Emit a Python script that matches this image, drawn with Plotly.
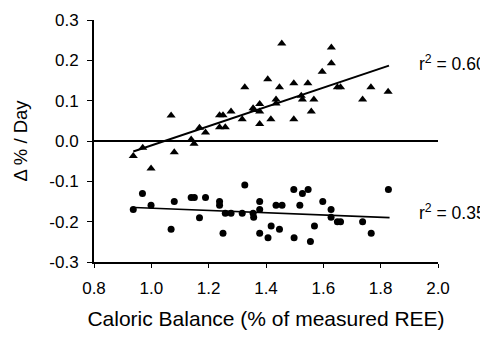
import plotly.graph_objects as go

tri_x = [0.937, 0.970, 0.999, 1.069, 1.080, 1.139, 1.149, 1.168, 1.189, 1.238,
         1.250, 1.238, 1.258, 1.278, 1.317, 1.326, 1.355, 1.358, 1.378, 1.378,
         1.378, 1.406, 1.417, 1.435, 1.435, 1.447, 1.455, 1.497, 1.497, 1.523,
         1.527, 1.546, 1.558, 1.567, 1.596, 1.628, 1.628, 1.649, 1.660, 1.737,
         1.766, 1.826]
tri_y = [-0.037, -0.017, -0.068, 0.063, -0.028, 0.004, -0.007, 0.033, 0.021, 0.064,
         0.064, 0.034, 0.034, 0.073, 0.054, 0.133, 0.081, 0.077, 0.092, 0.073,
         0.042, 0.153, 0.054, 0.103, 0.093, 0.133, 0.242, 0.143, 0.054, 0.112,
         0.103, 0.143, 0.073, 0.103, 0.172, 0.193, 0.232, 0.133, 0.133, 0.103,
         0.133, 0.122]

circ_x = [0.937, 0.969, 0.999, 1.069, 1.080, 1.139, 1.150, 1.168, 1.189, 1.238,
          1.238, 1.250, 1.258, 1.278, 1.317, 1.326, 1.355, 1.357, 1.378, 1.378,
          1.378, 1.407, 1.418, 1.435, 1.456, 1.447, 1.497, 1.498, 1.518, 1.527,
          1.547, 1.555, 1.569, 1.598, 1.627, 1.627, 1.649, 1.660, 1.737, 1.767,
          1.827]
circ_y = [-0.170, -0.130, -0.159, -0.219, -0.150, -0.140, -0.140, -0.190, -0.140, -0.150,
          -0.159, -0.229, -0.179, -0.179, -0.179, -0.109, -0.179, -0.189, -0.150, -0.170,
          -0.229, -0.240, -0.211, -0.159, -0.159, -0.219, -0.120, -0.240, -0.159, -0.130,
          -0.120, -0.249, -0.211, -0.150, -0.170, -0.189, -0.200, -0.200, -0.200, -0.229,
          -0.120]

tri_fit_x = [0.937, 1.829]
tri_fit_y = [-0.026, 0.187]
circ_fit_x = [0.941, 1.831]
circ_fit_y = [-0.165, -0.190]

r2_labels = ["r<sup>2</sup> = 0.60", "r<sup>2</sup> = 0.35"]
r2_y = [0.194, -0.175]

x_ticks = [0.8, 1.0, 1.2, 1.4, 1.6, 1.8, 2.0]
y_ticks = [-0.3, -0.2, -0.1, 0.0, 0.1, 0.2, 0.3]

FONT = "Liberation Sans, Arial, sans-serif"

fig = go.Figure()
fig.add_trace(go.Scatter(x=tri_fit_x, y=tri_fit_y, mode="lines",
                         line=dict(color="black", width=2), showlegend=False))
fig.add_trace(go.Scatter(x=circ_fit_x, y=circ_fit_y, mode="lines",
                         line=dict(color="black", width=1.6), showlegend=False))
fig.add_trace(go.Scatter(x=tri_x, y=tri_y, mode="markers",
                         marker=dict(symbol="triangle-up", size=8, color="black"),
                         showlegend=False, cliponaxis=False))
fig.add_trace(go.Scatter(x=circ_x, y=circ_y, mode="markers",
                         marker=dict(symbol="circle", size=7, color="black"),
                         showlegend=False, cliponaxis=False))

for lab, yy in zip(r2_labels, r2_y):
    fig.add_annotation(x=1.926, y=yy, xref="x", yref="y", text=lab,
                       showarrow=False, xanchor="left", yanchor="middle",
                       font=dict(family=FONT, size=17.5, color="black"))

# page body has an 8px default margin: figure is sized/margined to compensate
fig.update_layout(
    width=480, height=322,
    margin=dict(l=86, r=50, t=12, b=68),
    paper_bgcolor="white", plot_bgcolor="white",
    font=dict(family=FONT, size=17, color="black"),
)
fig.update_xaxes(
    range=[0.8, 2.0], tickvals=x_ticks, ticktext=[f"{v:.1f}" for v in x_ticks],
    showgrid=False, zeroline=False, showline=True, linecolor="black", linewidth=2,
    ticks="outside", ticklen=4, tickwidth=1, tickcolor="black", automargin=False,
    ticklabelstandoff=6,
    title=dict(text="Caloric Balance (% of measured REE)", font=dict(size=21), standoff=15),
)
fig.update_yaxes(
    range=[-0.3, 0.3], tickvals=y_ticks, ticktext=[f"{v:.1f}" for v in y_ticks],
    showgrid=False, zeroline=True, zerolinecolor="black", zerolinewidth=2,
    showline=True, linecolor="black", linewidth=2, automargin=False,
    ticks="outside", ticklen=5, tickwidth=1, tickcolor="black",
    ticklabelstandoff=5,
    title=dict(text="Δ % / Day", font=dict(size=18.5), standoff=17),
)

fig.write_html("out.html")
